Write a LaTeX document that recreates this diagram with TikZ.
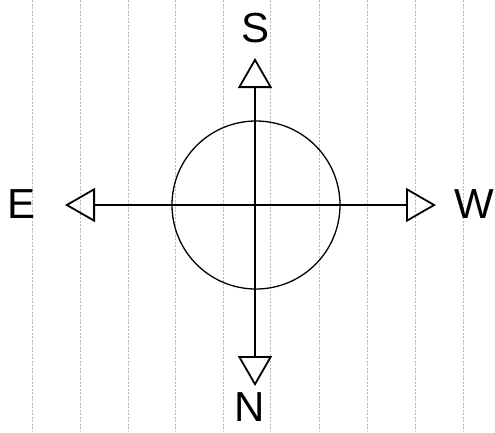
\documentclass[tikz,border=0pt]{standalone}
\usepackage{fontspec}
\setmainfont{Liberation Sans}
\usetikzlibrary{arrows.meta}

\begin{document}
\begin{tikzpicture}[x=1pt, y=-1pt,
    rule/.style={gray!55, line width=0.6pt, dash pattern=on 2pt off 1.5pt},
    axis/.style={line width=1.4pt, {Triangle[open, length=30pt, width=34pt, line width=1.8pt]}-{Triangle[open, length=30pt, width=34pt, line width=1.8pt]}},
    letter/.style={font=\fontsize{42}{42}\selectfont, inner sep=0pt}]

    \useasboundingbox (0,0) rectangle (495,432);

    % RULED PAPER (faint vertical lines)
    \foreach \xr in {32,80,128,175,223,270,319,367,415,463}
        \draw[rule] (\xr,0) -- (\xr,432);

    % THE GLOBE
    \node[draw, circle, line width=1.3pt, minimum size=168pt, inner sep=0pt] (globe) at (256,205) {};

    % AXIS ENDS
    \coordinate (stip) at (255,58);
    \coordinate (ntip) at (255,386);
    \coordinate (etip) at (65,205);
    \coordinate (wtip) at (436,205);

    % THE TWO AXES
    \draw[axis] (ntip) -- (stip);
    \draw[axis] (etip) -- (wtip);

    % THE LETTERS
    \node[letter] (slab) at (256,28) {S};
    \node[letter] (nlab) at (250,407) {N};
    \node[letter] (elab) at (22,204) {E};
    \node[letter] (wlab) at (474,204) {W};

\end{tikzpicture}
\end{document}
